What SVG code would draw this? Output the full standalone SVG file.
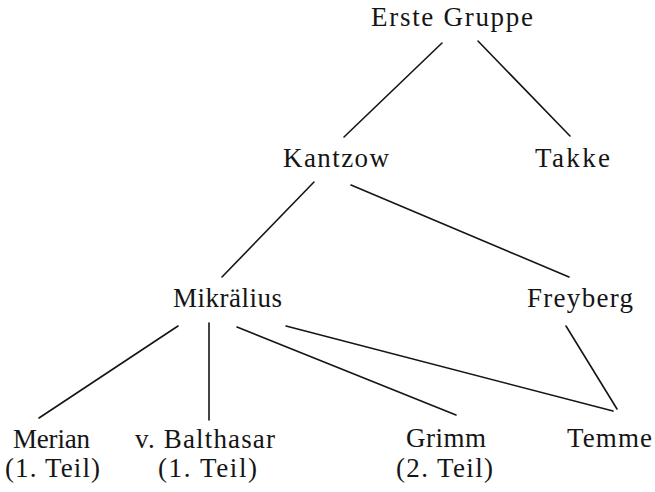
<svg xmlns="http://www.w3.org/2000/svg" width="655" height="492" viewBox="0 0 655 492">
<style>
text { font-family: "Liberation Serif", "DejaVu Serif", serif; font-size: 27px; fill: #151515; text-anchor: middle; }
.edge { stroke: #151515; stroke-width: 1.6; stroke-linecap: round; fill: none; }
</style>
<rect width="655" height="492" fill="#ffffff"/>
<g id="connectors">
<line class="edge" x1="442" y1="43" x2="344" y2="137"/>
<line class="edge" x1="478" y1="41" x2="570" y2="136"/>
<line class="edge" x1="314" y1="182" x2="222" y2="277"/>
<line class="edge" x1="351" y1="185" x2="569" y2="277"/>
<line class="edge" x1="178" y1="326" x2="39" y2="418"/>
<line class="edge" x1="209" y1="323" x2="209" y2="420"/>
<line class="edge" x1="237" y1="327" x2="456" y2="415"/>
<line class="edge" x1="286" y1="326" x2="613" y2="411"/>
<line class="edge" x1="566" y1="326" x2="617" y2="409"/>
</g>
<g id="erste-gruppe"><text x="452" y="26" textLength="162" lengthAdjust="spacing">Erste Gruppe</text></g>
<g id="kantzow"><text x="336" y="167" textLength="106" lengthAdjust="spacing">Kantzow</text></g>
<g id="takke"><text x="572.5" y="167" textLength="75" lengthAdjust="spacing">Takke</text></g>
<g id="mikralius"><text x="227.5" y="307" textLength="109" lengthAdjust="spacing">Mikrälius</text></g>
<g id="freyberg"><text x="580" y="307" textLength="106" lengthAdjust="spacing">Freyberg</text></g>
<g id="merian">
<text x="51.5" y="448" textLength="77" lengthAdjust="spacing">Merian</text>
<text x="52.5" y="477" textLength="95" lengthAdjust="spacing">(1. Teil)</text>
</g>
<g id="balthasar">
<text x="205" y="448" textLength="140" lengthAdjust="spacing">v. Balthasar</text>
<text x="207.5" y="477" textLength="99" lengthAdjust="spacing">(1. Teil)</text>
</g>
<g id="grimm">
<text x="446" y="447" textLength="80" lengthAdjust="spacing">Grimm</text>
<text x="444.5" y="477" textLength="97" lengthAdjust="spacing">(2. Teil)</text>
</g>
<g id="temme"><text x="609.5" y="447" textLength="85" lengthAdjust="spacing">Temme</text></g>
</svg>
